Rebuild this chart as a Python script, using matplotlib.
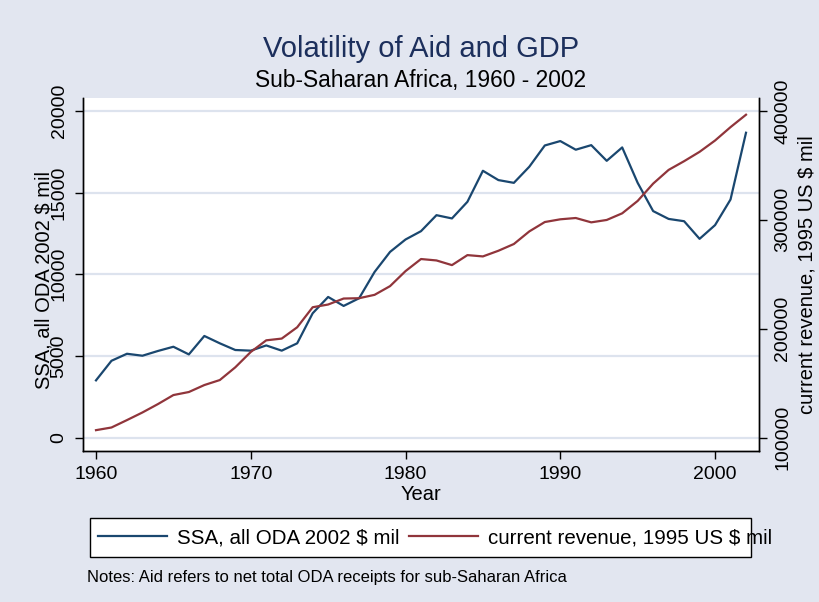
import numpy as np
import matplotlib
matplotlib.use("Agg")
import matplotlib.pyplot as plt
from matplotlib.patches import Rectangle

plt.rcParams['font.family'] = ['Liberation Sans', 'DejaVu Sans']

years = list(range(1960, 2003))
# SSA, all ODA 2002 $ mil (left axis)
oda = [3500, 4700, 5130, 5010, 5300, 5560, 5090, 6220, 5770, 5360,
       5320, 5640, 5320, 5770, 7610, 8610, 8060, 8530, 10140, 11370,
       12130, 12640, 13620, 13420, 14440, 16340, 15770, 15600, 16590, 17890,
       18160, 17630, 17910, 16950, 17770, 15600, 13870, 13390, 13250, 12170,
       13010, 14580, 18670]
# current revenue, 1995 US $ mil (right axis)
revenue = [106750, 109200, 116000, 123000, 130700, 139000, 141800, 148200, 152800, 164500,
           178600, 189300, 190900, 201300, 219700, 222200, 227700, 228000, 231100, 239100,
           252900, 264000, 262700, 258400, 267600, 266400, 271600, 277800, 289400, 298000,
           300500, 301700, 297700, 299900, 306000, 317400, 333300, 345900, 353900, 362500,
           372900, 385200, 396600]

left_ticks = [0, 5000, 10000, 15000, 20000]
right_ticks = [100000, 200000, 300000, 400000]
x_ticks = [1960, 1970, 1980, 1990, 2000]

bg = '#e2e6f0'
navy = '#1a476f'
maroon = '#90353b'

fig = plt.figure(figsize=(8.2, 6.02), dpi=100, facecolor=bg)
ax1 = fig.add_axes([83/820, 1-451/602, 676/820, 353/602])
ax1.set_facecolor('white')
ax2 = ax1.twinx()

l1, = ax1.plot(years, oda, color=navy, lw=1.6)
l2, = ax2.plot(years, revenue, color=maroon, lw=1.6)

ax1.set_xlim(1959.16, 2002.84)
ax1.set_ylim(-827, 20798)
ax2.set_ylim(87600, 411970)

ax1.set_yticks(left_ticks)
ax2.set_yticks(right_ticks)
ax1.set_xticks(x_ticks)
ax1.yaxis.grid(True, color='#dde3ee', lw=1.6)
ax1.set_axisbelow(True)

for a in (ax1, ax2):
    a.spines['top'].set_visible(False)
    for s in ('left', 'right', 'bottom'):
        a.spines[s].set_linewidth(1.0)
    a.tick_params(direction='out', length=6, width=1.0, labelsize=14, pad=5)

ax1.tick_params(axis='y', labelrotation=90)
ax2.tick_params(axis='y', labelrotation=90)
for lab in ax1.get_yticklabels() + ax2.get_yticklabels():
    lab.set_va('center')

ax1.set_xlabel('Year', fontsize=14.5, labelpad=1)
# the left title sits over the tick labels, as in the original
ax1.set_ylabel('SSA, all ODA 2002 $ mil', fontsize=14.5, va='center')
ax1.yaxis.set_label_coords(-0.057, 0.484)
ax2.set_ylabel('current revenue, 1995 US $ mil', fontsize=14.5, va='center', rotation=90)
ax2.yaxis.set_label_coords(1.0705, 0.5)

fig.text(421/820, 1-57/602, 'Volatility of Aid and GDP', ha='center', va='baseline',
         fontsize=21, color='#1c2f5c')
fig.text(421/820, 1-87/602, 'Sub-Saharan Africa, 1960 - 2002', ha='center', va='baseline',
         fontsize=16.4, color='black')

# legend frame drawn separately (the text runs past it in the original)
fig.add_artist(Rectangle((90/820, 1-557/602), 661/820, 39/602, transform=fig.transFigure,
                         facecolor='white', edgecolor='black', lw=1.0, zorder=1))
leg = fig.legend([l1, l2], ['SSA, all ODA 2002 $ mil', 'current revenue, 1995 US $ mil'],
                 loc='center left', bbox_to_anchor=(98/820, 1-538/602),
                 ncol=2, fontsize=14.8, frameon=False, handlelength=3.35,
                 handletextpad=0.5, borderpad=0, borderaxespad=0, columnspacing=0.45)
leg.set_zorder(2)

fig.text(87/820, 1-582/602, 'Notes: Aid refers to net total ODA receipts for sub-Saharan Africa',
         ha='left', va='baseline', fontsize=12)

fig.savefig('out.png', dpi=100, facecolor=bg)
